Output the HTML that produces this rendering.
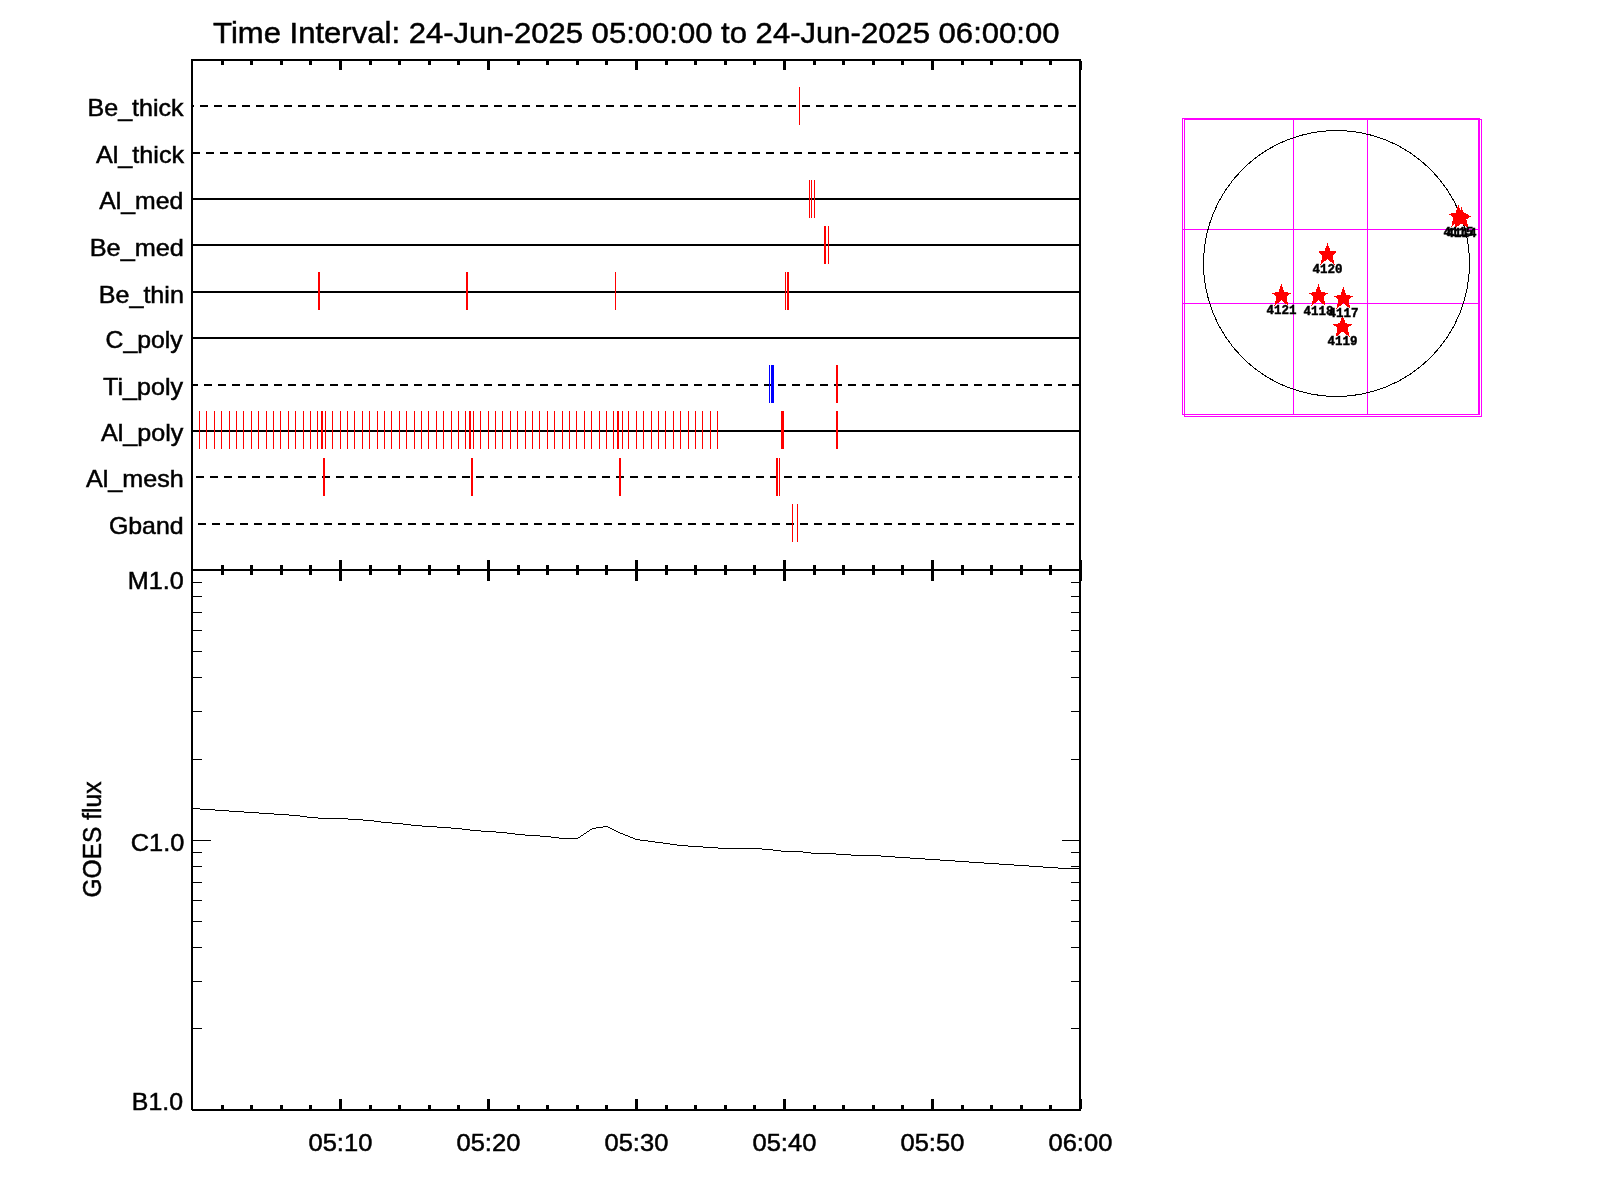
<!DOCTYPE html>
<html><head><meta charset="utf-8"><style>
html,body{margin:0;padding:0;background:#fff;width:1600px;height:1200px;overflow:hidden}
svg{position:absolute;left:0;top:0;will-change:transform}
text{font-family:"Liberation Sans",sans-serif;fill:#000}
</style></head><body>
<svg width="1600" height="1200" viewBox="0 0 1600 1200">
<rect x="0" y="0" width="1600" height="1200" fill="#fff"/>
<g shape-rendering="crispEdges">
<rect x="191" y="59" width="890" height="2" fill="#000"/>
<rect x="191" y="569" width="890" height="2" fill="#000"/>
<rect x="192" y="1109" width="889" height="2" fill="#000"/>
<rect x="191" y="59" width="2" height="1051" fill="#000"/>
<rect x="1079" y="59" width="2" height="1052" fill="#000"/>
<rect x="221" y="61" width="3" height="4" fill="#000"/>
<rect x="221" y="565" width="3" height="10" fill="#000"/>
<rect x="221" y="1105" width="3" height="4" fill="#000"/>
<rect x="250" y="61" width="3" height="4" fill="#000"/>
<rect x="250" y="565" width="3" height="10" fill="#000"/>
<rect x="250" y="1105" width="3" height="4" fill="#000"/>
<rect x="280" y="61" width="3" height="4" fill="#000"/>
<rect x="280" y="565" width="3" height="10" fill="#000"/>
<rect x="280" y="1105" width="3" height="4" fill="#000"/>
<rect x="309" y="61" width="3" height="4" fill="#000"/>
<rect x="309" y="565" width="3" height="10" fill="#000"/>
<rect x="309" y="1105" width="3" height="4" fill="#000"/>
<rect x="339" y="61" width="3" height="9" fill="#000"/>
<rect x="339" y="560" width="3" height="21" fill="#000"/>
<rect x="339" y="1099" width="3" height="10" fill="#000"/>
<rect x="369" y="61" width="3" height="4" fill="#000"/>
<rect x="369" y="565" width="3" height="10" fill="#000"/>
<rect x="369" y="1105" width="3" height="4" fill="#000"/>
<rect x="398" y="61" width="3" height="4" fill="#000"/>
<rect x="398" y="565" width="3" height="10" fill="#000"/>
<rect x="398" y="1105" width="3" height="4" fill="#000"/>
<rect x="428" y="61" width="3" height="4" fill="#000"/>
<rect x="428" y="565" width="3" height="10" fill="#000"/>
<rect x="428" y="1105" width="3" height="4" fill="#000"/>
<rect x="457" y="61" width="3" height="4" fill="#000"/>
<rect x="457" y="565" width="3" height="10" fill="#000"/>
<rect x="457" y="1105" width="3" height="4" fill="#000"/>
<rect x="487" y="61" width="3" height="9" fill="#000"/>
<rect x="487" y="560" width="3" height="21" fill="#000"/>
<rect x="487" y="1099" width="3" height="10" fill="#000"/>
<rect x="517" y="61" width="3" height="4" fill="#000"/>
<rect x="517" y="565" width="3" height="10" fill="#000"/>
<rect x="517" y="1105" width="3" height="4" fill="#000"/>
<rect x="546" y="61" width="3" height="4" fill="#000"/>
<rect x="546" y="565" width="3" height="10" fill="#000"/>
<rect x="546" y="1105" width="3" height="4" fill="#000"/>
<rect x="576" y="61" width="3" height="4" fill="#000"/>
<rect x="576" y="565" width="3" height="10" fill="#000"/>
<rect x="576" y="1105" width="3" height="4" fill="#000"/>
<rect x="605" y="61" width="3" height="4" fill="#000"/>
<rect x="605" y="565" width="3" height="10" fill="#000"/>
<rect x="605" y="1105" width="3" height="4" fill="#000"/>
<rect x="635" y="61" width="3" height="9" fill="#000"/>
<rect x="635" y="560" width="3" height="21" fill="#000"/>
<rect x="635" y="1099" width="3" height="10" fill="#000"/>
<rect x="665" y="61" width="3" height="4" fill="#000"/>
<rect x="665" y="565" width="3" height="10" fill="#000"/>
<rect x="665" y="1105" width="3" height="4" fill="#000"/>
<rect x="694" y="61" width="3" height="4" fill="#000"/>
<rect x="694" y="565" width="3" height="10" fill="#000"/>
<rect x="694" y="1105" width="3" height="4" fill="#000"/>
<rect x="724" y="61" width="3" height="4" fill="#000"/>
<rect x="724" y="565" width="3" height="10" fill="#000"/>
<rect x="724" y="1105" width="3" height="4" fill="#000"/>
<rect x="753" y="61" width="3" height="4" fill="#000"/>
<rect x="753" y="565" width="3" height="10" fill="#000"/>
<rect x="753" y="1105" width="3" height="4" fill="#000"/>
<rect x="783" y="61" width="3" height="9" fill="#000"/>
<rect x="783" y="560" width="3" height="21" fill="#000"/>
<rect x="783" y="1099" width="3" height="10" fill="#000"/>
<rect x="813" y="61" width="3" height="4" fill="#000"/>
<rect x="813" y="565" width="3" height="10" fill="#000"/>
<rect x="813" y="1105" width="3" height="4" fill="#000"/>
<rect x="842" y="61" width="3" height="4" fill="#000"/>
<rect x="842" y="565" width="3" height="10" fill="#000"/>
<rect x="842" y="1105" width="3" height="4" fill="#000"/>
<rect x="872" y="61" width="3" height="4" fill="#000"/>
<rect x="872" y="565" width="3" height="10" fill="#000"/>
<rect x="872" y="1105" width="3" height="4" fill="#000"/>
<rect x="901" y="61" width="3" height="4" fill="#000"/>
<rect x="901" y="565" width="3" height="10" fill="#000"/>
<rect x="901" y="1105" width="3" height="4" fill="#000"/>
<rect x="931" y="61" width="3" height="9" fill="#000"/>
<rect x="931" y="560" width="3" height="21" fill="#000"/>
<rect x="931" y="1099" width="3" height="10" fill="#000"/>
<rect x="961" y="61" width="3" height="4" fill="#000"/>
<rect x="961" y="565" width="3" height="10" fill="#000"/>
<rect x="961" y="1105" width="3" height="4" fill="#000"/>
<rect x="990" y="61" width="3" height="4" fill="#000"/>
<rect x="990" y="565" width="3" height="10" fill="#000"/>
<rect x="990" y="1105" width="3" height="4" fill="#000"/>
<rect x="1020" y="61" width="3" height="4" fill="#000"/>
<rect x="1020" y="565" width="3" height="10" fill="#000"/>
<rect x="1020" y="1105" width="3" height="4" fill="#000"/>
<rect x="1049" y="61" width="3" height="4" fill="#000"/>
<rect x="1049" y="565" width="3" height="10" fill="#000"/>
<rect x="1049" y="1105" width="3" height="4" fill="#000"/>
<rect x="1079" y="61" width="3" height="9" fill="#000"/>
<rect x="1079" y="560" width="3" height="21" fill="#000"/>
<rect x="1079" y="1099" width="3" height="10" fill="#000"/>
<rect x="193" y="105" width="1" height="2" fill="#000"/>
<rect x="200" y="105" width="8" height="2" fill="#000"/>
<rect x="214" y="105" width="8" height="2" fill="#000"/>
<rect x="228" y="105" width="8" height="2" fill="#000"/>
<rect x="242" y="105" width="8" height="2" fill="#000"/>
<rect x="256" y="105" width="8" height="2" fill="#000"/>
<rect x="270" y="105" width="8" height="2" fill="#000"/>
<rect x="284" y="105" width="8" height="2" fill="#000"/>
<rect x="298" y="105" width="8" height="2" fill="#000"/>
<rect x="312" y="105" width="8" height="2" fill="#000"/>
<rect x="326" y="105" width="8" height="2" fill="#000"/>
<rect x="340" y="105" width="8" height="2" fill="#000"/>
<rect x="354" y="105" width="8" height="2" fill="#000"/>
<rect x="368" y="105" width="8" height="2" fill="#000"/>
<rect x="382" y="105" width="8" height="2" fill="#000"/>
<rect x="396" y="105" width="8" height="2" fill="#000"/>
<rect x="410" y="105" width="8" height="2" fill="#000"/>
<rect x="424" y="105" width="8" height="2" fill="#000"/>
<rect x="438" y="105" width="8" height="2" fill="#000"/>
<rect x="452" y="105" width="8" height="2" fill="#000"/>
<rect x="466" y="105" width="8" height="2" fill="#000"/>
<rect x="480" y="105" width="8" height="2" fill="#000"/>
<rect x="494" y="105" width="8" height="2" fill="#000"/>
<rect x="508" y="105" width="8" height="2" fill="#000"/>
<rect x="522" y="105" width="8" height="2" fill="#000"/>
<rect x="536" y="105" width="8" height="2" fill="#000"/>
<rect x="550" y="105" width="8" height="2" fill="#000"/>
<rect x="564" y="105" width="8" height="2" fill="#000"/>
<rect x="578" y="105" width="8" height="2" fill="#000"/>
<rect x="592" y="105" width="8" height="2" fill="#000"/>
<rect x="606" y="105" width="8" height="2" fill="#000"/>
<rect x="620" y="105" width="8" height="2" fill="#000"/>
<rect x="634" y="105" width="8" height="2" fill="#000"/>
<rect x="648" y="105" width="8" height="2" fill="#000"/>
<rect x="662" y="105" width="8" height="2" fill="#000"/>
<rect x="676" y="105" width="8" height="2" fill="#000"/>
<rect x="690" y="105" width="8" height="2" fill="#000"/>
<rect x="704" y="105" width="8" height="2" fill="#000"/>
<rect x="718" y="105" width="8" height="2" fill="#000"/>
<rect x="732" y="105" width="8" height="2" fill="#000"/>
<rect x="746" y="105" width="8" height="2" fill="#000"/>
<rect x="760" y="105" width="8" height="2" fill="#000"/>
<rect x="774" y="105" width="8" height="2" fill="#000"/>
<rect x="788" y="105" width="8" height="2" fill="#000"/>
<rect x="802" y="105" width="8" height="2" fill="#000"/>
<rect x="816" y="105" width="8" height="2" fill="#000"/>
<rect x="830" y="105" width="8" height="2" fill="#000"/>
<rect x="844" y="105" width="8" height="2" fill="#000"/>
<rect x="858" y="105" width="8" height="2" fill="#000"/>
<rect x="872" y="105" width="8" height="2" fill="#000"/>
<rect x="886" y="105" width="8" height="2" fill="#000"/>
<rect x="900" y="105" width="8" height="2" fill="#000"/>
<rect x="914" y="105" width="8" height="2" fill="#000"/>
<rect x="928" y="105" width="8" height="2" fill="#000"/>
<rect x="942" y="105" width="8" height="2" fill="#000"/>
<rect x="956" y="105" width="8" height="2" fill="#000"/>
<rect x="970" y="105" width="8" height="2" fill="#000"/>
<rect x="984" y="105" width="8" height="2" fill="#000"/>
<rect x="998" y="105" width="8" height="2" fill="#000"/>
<rect x="1012" y="105" width="8" height="2" fill="#000"/>
<rect x="1026" y="105" width="8" height="2" fill="#000"/>
<rect x="1040" y="105" width="8" height="2" fill="#000"/>
<rect x="1054" y="105" width="8" height="2" fill="#000"/>
<rect x="1068" y="105" width="8" height="2" fill="#000"/>
<text x="87.50" y="116" font-size="24" textLength="96.11" lengthAdjust="spacingAndGlyphs" stroke="#000" stroke-width="0.5">Be_thick</text>
<rect x="193" y="152" width="7" height="2" fill="#000"/>
<rect x="206" y="152" width="8" height="2" fill="#000"/>
<rect x="220" y="152" width="8" height="2" fill="#000"/>
<rect x="234" y="152" width="8" height="2" fill="#000"/>
<rect x="248" y="152" width="8" height="2" fill="#000"/>
<rect x="262" y="152" width="8" height="2" fill="#000"/>
<rect x="276" y="152" width="8" height="2" fill="#000"/>
<rect x="290" y="152" width="8" height="2" fill="#000"/>
<rect x="304" y="152" width="8" height="2" fill="#000"/>
<rect x="318" y="152" width="8" height="2" fill="#000"/>
<rect x="332" y="152" width="8" height="2" fill="#000"/>
<rect x="346" y="152" width="8" height="2" fill="#000"/>
<rect x="360" y="152" width="8" height="2" fill="#000"/>
<rect x="374" y="152" width="8" height="2" fill="#000"/>
<rect x="388" y="152" width="8" height="2" fill="#000"/>
<rect x="402" y="152" width="8" height="2" fill="#000"/>
<rect x="416" y="152" width="8" height="2" fill="#000"/>
<rect x="430" y="152" width="8" height="2" fill="#000"/>
<rect x="444" y="152" width="8" height="2" fill="#000"/>
<rect x="458" y="152" width="8" height="2" fill="#000"/>
<rect x="472" y="152" width="8" height="2" fill="#000"/>
<rect x="486" y="152" width="8" height="2" fill="#000"/>
<rect x="500" y="152" width="8" height="2" fill="#000"/>
<rect x="514" y="152" width="8" height="2" fill="#000"/>
<rect x="528" y="152" width="8" height="2" fill="#000"/>
<rect x="542" y="152" width="8" height="2" fill="#000"/>
<rect x="556" y="152" width="8" height="2" fill="#000"/>
<rect x="570" y="152" width="8" height="2" fill="#000"/>
<rect x="584" y="152" width="8" height="2" fill="#000"/>
<rect x="598" y="152" width="8" height="2" fill="#000"/>
<rect x="612" y="152" width="8" height="2" fill="#000"/>
<rect x="626" y="152" width="8" height="2" fill="#000"/>
<rect x="640" y="152" width="8" height="2" fill="#000"/>
<rect x="654" y="152" width="8" height="2" fill="#000"/>
<rect x="668" y="152" width="8" height="2" fill="#000"/>
<rect x="682" y="152" width="8" height="2" fill="#000"/>
<rect x="696" y="152" width="8" height="2" fill="#000"/>
<rect x="710" y="152" width="8" height="2" fill="#000"/>
<rect x="724" y="152" width="8" height="2" fill="#000"/>
<rect x="738" y="152" width="8" height="2" fill="#000"/>
<rect x="752" y="152" width="8" height="2" fill="#000"/>
<rect x="766" y="152" width="8" height="2" fill="#000"/>
<rect x="780" y="152" width="8" height="2" fill="#000"/>
<rect x="794" y="152" width="8" height="2" fill="#000"/>
<rect x="808" y="152" width="8" height="2" fill="#000"/>
<rect x="822" y="152" width="8" height="2" fill="#000"/>
<rect x="836" y="152" width="8" height="2" fill="#000"/>
<rect x="850" y="152" width="8" height="2" fill="#000"/>
<rect x="864" y="152" width="8" height="2" fill="#000"/>
<rect x="878" y="152" width="8" height="2" fill="#000"/>
<rect x="892" y="152" width="8" height="2" fill="#000"/>
<rect x="906" y="152" width="8" height="2" fill="#000"/>
<rect x="920" y="152" width="8" height="2" fill="#000"/>
<rect x="934" y="152" width="8" height="2" fill="#000"/>
<rect x="948" y="152" width="8" height="2" fill="#000"/>
<rect x="962" y="152" width="8" height="2" fill="#000"/>
<rect x="976" y="152" width="8" height="2" fill="#000"/>
<rect x="990" y="152" width="8" height="2" fill="#000"/>
<rect x="1004" y="152" width="8" height="2" fill="#000"/>
<rect x="1018" y="152" width="8" height="2" fill="#000"/>
<rect x="1032" y="152" width="8" height="2" fill="#000"/>
<rect x="1046" y="152" width="8" height="2" fill="#000"/>
<rect x="1060" y="152" width="8" height="2" fill="#000"/>
<rect x="1074" y="152" width="5" height="2" fill="#000"/>
<text x="96.00" y="163" font-size="24" textLength="88.05" lengthAdjust="spacingAndGlyphs" stroke="#000" stroke-width="0.5">Al_thick</text>
<rect x="193" y="198" width="886" height="2" fill="#000"/>
<text x="99.25" y="209" font-size="24" textLength="84.08" lengthAdjust="spacingAndGlyphs" stroke="#000" stroke-width="0.5">Al_med</text>
<rect x="193" y="244" width="886" height="2" fill="#000"/>
<text x="89.70" y="256" font-size="24" textLength="94.23" lengthAdjust="spacingAndGlyphs" stroke="#000" stroke-width="0.5">Be_med</text>
<rect x="193" y="291" width="886" height="2" fill="#000"/>
<text x="98.80" y="303" font-size="24" textLength="85.04" lengthAdjust="spacingAndGlyphs" stroke="#000" stroke-width="0.5">Be_thin</text>
<rect x="193" y="337" width="886" height="2" fill="#000"/>
<text x="105.60" y="348" font-size="24" textLength="77.15" lengthAdjust="spacingAndGlyphs" stroke="#000" stroke-width="0.5">C_poly</text>
<rect x="193" y="384" width="5" height="2" fill="#000"/>
<rect x="204" y="384" width="8" height="2" fill="#000"/>
<rect x="218" y="384" width="8" height="2" fill="#000"/>
<rect x="232" y="384" width="8" height="2" fill="#000"/>
<rect x="246" y="384" width="8" height="2" fill="#000"/>
<rect x="260" y="384" width="8" height="2" fill="#000"/>
<rect x="274" y="384" width="8" height="2" fill="#000"/>
<rect x="288" y="384" width="8" height="2" fill="#000"/>
<rect x="302" y="384" width="8" height="2" fill="#000"/>
<rect x="316" y="384" width="8" height="2" fill="#000"/>
<rect x="330" y="384" width="8" height="2" fill="#000"/>
<rect x="344" y="384" width="8" height="2" fill="#000"/>
<rect x="358" y="384" width="8" height="2" fill="#000"/>
<rect x="372" y="384" width="8" height="2" fill="#000"/>
<rect x="386" y="384" width="8" height="2" fill="#000"/>
<rect x="400" y="384" width="8" height="2" fill="#000"/>
<rect x="414" y="384" width="8" height="2" fill="#000"/>
<rect x="428" y="384" width="8" height="2" fill="#000"/>
<rect x="442" y="384" width="8" height="2" fill="#000"/>
<rect x="456" y="384" width="8" height="2" fill="#000"/>
<rect x="470" y="384" width="8" height="2" fill="#000"/>
<rect x="484" y="384" width="8" height="2" fill="#000"/>
<rect x="498" y="384" width="8" height="2" fill="#000"/>
<rect x="512" y="384" width="8" height="2" fill="#000"/>
<rect x="526" y="384" width="8" height="2" fill="#000"/>
<rect x="540" y="384" width="8" height="2" fill="#000"/>
<rect x="554" y="384" width="8" height="2" fill="#000"/>
<rect x="568" y="384" width="8" height="2" fill="#000"/>
<rect x="582" y="384" width="8" height="2" fill="#000"/>
<rect x="596" y="384" width="8" height="2" fill="#000"/>
<rect x="610" y="384" width="8" height="2" fill="#000"/>
<rect x="624" y="384" width="8" height="2" fill="#000"/>
<rect x="638" y="384" width="8" height="2" fill="#000"/>
<rect x="652" y="384" width="8" height="2" fill="#000"/>
<rect x="666" y="384" width="8" height="2" fill="#000"/>
<rect x="680" y="384" width="8" height="2" fill="#000"/>
<rect x="694" y="384" width="8" height="2" fill="#000"/>
<rect x="708" y="384" width="8" height="2" fill="#000"/>
<rect x="722" y="384" width="8" height="2" fill="#000"/>
<rect x="736" y="384" width="8" height="2" fill="#000"/>
<rect x="750" y="384" width="8" height="2" fill="#000"/>
<rect x="764" y="384" width="8" height="2" fill="#000"/>
<rect x="778" y="384" width="8" height="2" fill="#000"/>
<rect x="792" y="384" width="8" height="2" fill="#000"/>
<rect x="806" y="384" width="8" height="2" fill="#000"/>
<rect x="820" y="384" width="8" height="2" fill="#000"/>
<rect x="834" y="384" width="8" height="2" fill="#000"/>
<rect x="848" y="384" width="8" height="2" fill="#000"/>
<rect x="862" y="384" width="8" height="2" fill="#000"/>
<rect x="876" y="384" width="8" height="2" fill="#000"/>
<rect x="890" y="384" width="8" height="2" fill="#000"/>
<rect x="904" y="384" width="8" height="2" fill="#000"/>
<rect x="918" y="384" width="8" height="2" fill="#000"/>
<rect x="932" y="384" width="8" height="2" fill="#000"/>
<rect x="946" y="384" width="8" height="2" fill="#000"/>
<rect x="960" y="384" width="8" height="2" fill="#000"/>
<rect x="974" y="384" width="8" height="2" fill="#000"/>
<rect x="988" y="384" width="8" height="2" fill="#000"/>
<rect x="1002" y="384" width="8" height="2" fill="#000"/>
<rect x="1016" y="384" width="8" height="2" fill="#000"/>
<rect x="1030" y="384" width="8" height="2" fill="#000"/>
<rect x="1044" y="384" width="8" height="2" fill="#000"/>
<rect x="1058" y="384" width="8" height="2" fill="#000"/>
<rect x="1072" y="384" width="7" height="2" fill="#000"/>
<text x="103.10" y="395" font-size="24" textLength="79.90" lengthAdjust="spacingAndGlyphs" stroke="#000" stroke-width="0.5">Ti_poly</text>
<rect x="193" y="430" width="886" height="2" fill="#000"/>
<text x="101.00" y="441" font-size="24" textLength="82.35" lengthAdjust="spacingAndGlyphs" stroke="#000" stroke-width="0.5">Al_poly</text>
<rect x="196" y="476" width="8" height="2" fill="#000"/>
<rect x="210" y="476" width="8" height="2" fill="#000"/>
<rect x="224" y="476" width="8" height="2" fill="#000"/>
<rect x="238" y="476" width="8" height="2" fill="#000"/>
<rect x="252" y="476" width="8" height="2" fill="#000"/>
<rect x="266" y="476" width="8" height="2" fill="#000"/>
<rect x="280" y="476" width="8" height="2" fill="#000"/>
<rect x="294" y="476" width="8" height="2" fill="#000"/>
<rect x="308" y="476" width="8" height="2" fill="#000"/>
<rect x="322" y="476" width="8" height="2" fill="#000"/>
<rect x="336" y="476" width="8" height="2" fill="#000"/>
<rect x="350" y="476" width="8" height="2" fill="#000"/>
<rect x="364" y="476" width="8" height="2" fill="#000"/>
<rect x="378" y="476" width="8" height="2" fill="#000"/>
<rect x="392" y="476" width="8" height="2" fill="#000"/>
<rect x="406" y="476" width="8" height="2" fill="#000"/>
<rect x="420" y="476" width="8" height="2" fill="#000"/>
<rect x="434" y="476" width="8" height="2" fill="#000"/>
<rect x="448" y="476" width="8" height="2" fill="#000"/>
<rect x="462" y="476" width="8" height="2" fill="#000"/>
<rect x="476" y="476" width="8" height="2" fill="#000"/>
<rect x="490" y="476" width="8" height="2" fill="#000"/>
<rect x="504" y="476" width="8" height="2" fill="#000"/>
<rect x="518" y="476" width="8" height="2" fill="#000"/>
<rect x="532" y="476" width="8" height="2" fill="#000"/>
<rect x="546" y="476" width="8" height="2" fill="#000"/>
<rect x="560" y="476" width="8" height="2" fill="#000"/>
<rect x="574" y="476" width="8" height="2" fill="#000"/>
<rect x="588" y="476" width="8" height="2" fill="#000"/>
<rect x="602" y="476" width="8" height="2" fill="#000"/>
<rect x="616" y="476" width="8" height="2" fill="#000"/>
<rect x="630" y="476" width="8" height="2" fill="#000"/>
<rect x="644" y="476" width="8" height="2" fill="#000"/>
<rect x="658" y="476" width="8" height="2" fill="#000"/>
<rect x="672" y="476" width="8" height="2" fill="#000"/>
<rect x="686" y="476" width="8" height="2" fill="#000"/>
<rect x="700" y="476" width="8" height="2" fill="#000"/>
<rect x="714" y="476" width="8" height="2" fill="#000"/>
<rect x="728" y="476" width="8" height="2" fill="#000"/>
<rect x="742" y="476" width="8" height="2" fill="#000"/>
<rect x="756" y="476" width="8" height="2" fill="#000"/>
<rect x="770" y="476" width="8" height="2" fill="#000"/>
<rect x="784" y="476" width="8" height="2" fill="#000"/>
<rect x="798" y="476" width="8" height="2" fill="#000"/>
<rect x="812" y="476" width="8" height="2" fill="#000"/>
<rect x="826" y="476" width="8" height="2" fill="#000"/>
<rect x="840" y="476" width="8" height="2" fill="#000"/>
<rect x="854" y="476" width="8" height="2" fill="#000"/>
<rect x="868" y="476" width="8" height="2" fill="#000"/>
<rect x="882" y="476" width="8" height="2" fill="#000"/>
<rect x="896" y="476" width="8" height="2" fill="#000"/>
<rect x="910" y="476" width="8" height="2" fill="#000"/>
<rect x="924" y="476" width="8" height="2" fill="#000"/>
<rect x="938" y="476" width="8" height="2" fill="#000"/>
<rect x="952" y="476" width="8" height="2" fill="#000"/>
<rect x="966" y="476" width="8" height="2" fill="#000"/>
<rect x="980" y="476" width="8" height="2" fill="#000"/>
<rect x="994" y="476" width="8" height="2" fill="#000"/>
<rect x="1008" y="476" width="8" height="2" fill="#000"/>
<rect x="1022" y="476" width="8" height="2" fill="#000"/>
<rect x="1036" y="476" width="8" height="2" fill="#000"/>
<rect x="1050" y="476" width="8" height="2" fill="#000"/>
<rect x="1064" y="476" width="8" height="2" fill="#000"/>
<rect x="1078" y="476" width="1" height="2" fill="#000"/>
<text x="86.00" y="487" font-size="24" textLength="97.78" lengthAdjust="spacingAndGlyphs" stroke="#000" stroke-width="0.5">Al_mesh</text>
<rect x="198" y="523" width="8" height="2" fill="#000"/>
<rect x="212" y="523" width="8" height="2" fill="#000"/>
<rect x="226" y="523" width="8" height="2" fill="#000"/>
<rect x="240" y="523" width="8" height="2" fill="#000"/>
<rect x="254" y="523" width="8" height="2" fill="#000"/>
<rect x="268" y="523" width="8" height="2" fill="#000"/>
<rect x="282" y="523" width="8" height="2" fill="#000"/>
<rect x="296" y="523" width="8" height="2" fill="#000"/>
<rect x="310" y="523" width="8" height="2" fill="#000"/>
<rect x="324" y="523" width="8" height="2" fill="#000"/>
<rect x="338" y="523" width="8" height="2" fill="#000"/>
<rect x="352" y="523" width="8" height="2" fill="#000"/>
<rect x="366" y="523" width="8" height="2" fill="#000"/>
<rect x="380" y="523" width="8" height="2" fill="#000"/>
<rect x="394" y="523" width="8" height="2" fill="#000"/>
<rect x="408" y="523" width="8" height="2" fill="#000"/>
<rect x="422" y="523" width="8" height="2" fill="#000"/>
<rect x="436" y="523" width="8" height="2" fill="#000"/>
<rect x="450" y="523" width="8" height="2" fill="#000"/>
<rect x="464" y="523" width="8" height="2" fill="#000"/>
<rect x="478" y="523" width="8" height="2" fill="#000"/>
<rect x="492" y="523" width="8" height="2" fill="#000"/>
<rect x="506" y="523" width="8" height="2" fill="#000"/>
<rect x="520" y="523" width="8" height="2" fill="#000"/>
<rect x="534" y="523" width="8" height="2" fill="#000"/>
<rect x="548" y="523" width="8" height="2" fill="#000"/>
<rect x="562" y="523" width="8" height="2" fill="#000"/>
<rect x="576" y="523" width="8" height="2" fill="#000"/>
<rect x="590" y="523" width="8" height="2" fill="#000"/>
<rect x="604" y="523" width="8" height="2" fill="#000"/>
<rect x="618" y="523" width="8" height="2" fill="#000"/>
<rect x="632" y="523" width="8" height="2" fill="#000"/>
<rect x="646" y="523" width="8" height="2" fill="#000"/>
<rect x="660" y="523" width="8" height="2" fill="#000"/>
<rect x="674" y="523" width="8" height="2" fill="#000"/>
<rect x="688" y="523" width="8" height="2" fill="#000"/>
<rect x="702" y="523" width="8" height="2" fill="#000"/>
<rect x="716" y="523" width="8" height="2" fill="#000"/>
<rect x="730" y="523" width="8" height="2" fill="#000"/>
<rect x="744" y="523" width="8" height="2" fill="#000"/>
<rect x="758" y="523" width="8" height="2" fill="#000"/>
<rect x="772" y="523" width="8" height="2" fill="#000"/>
<rect x="786" y="523" width="8" height="2" fill="#000"/>
<rect x="800" y="523" width="8" height="2" fill="#000"/>
<rect x="814" y="523" width="8" height="2" fill="#000"/>
<rect x="828" y="523" width="8" height="2" fill="#000"/>
<rect x="842" y="523" width="8" height="2" fill="#000"/>
<rect x="856" y="523" width="8" height="2" fill="#000"/>
<rect x="870" y="523" width="8" height="2" fill="#000"/>
<rect x="884" y="523" width="8" height="2" fill="#000"/>
<rect x="898" y="523" width="8" height="2" fill="#000"/>
<rect x="912" y="523" width="8" height="2" fill="#000"/>
<rect x="926" y="523" width="8" height="2" fill="#000"/>
<rect x="940" y="523" width="8" height="2" fill="#000"/>
<rect x="954" y="523" width="8" height="2" fill="#000"/>
<rect x="968" y="523" width="8" height="2" fill="#000"/>
<rect x="982" y="523" width="8" height="2" fill="#000"/>
<rect x="996" y="523" width="8" height="2" fill="#000"/>
<rect x="1010" y="523" width="8" height="2" fill="#000"/>
<rect x="1024" y="523" width="8" height="2" fill="#000"/>
<rect x="1038" y="523" width="8" height="2" fill="#000"/>
<rect x="1052" y="523" width="8" height="2" fill="#000"/>
<rect x="1066" y="523" width="8" height="2" fill="#000"/>
<text x="108.90" y="534" font-size="24" textLength="74.71" lengthAdjust="spacingAndGlyphs" stroke="#000" stroke-width="0.5">Gband</text>
<rect x="799" y="87" width="1" height="38" fill="#ff0000"/>
<rect x="809" y="180" width="1" height="38" fill="#ff0000"/>
<rect x="811" y="180" width="1" height="38" fill="#ff0000"/>
<rect x="814" y="180" width="1" height="38" fill="#ff0000"/>
<rect x="824" y="226" width="2" height="38" fill="#ff0000"/>
<rect x="828" y="226" width="1" height="38" fill="#ff0000"/>
<rect x="318" y="272" width="2" height="38" fill="#ff0000"/>
<rect x="466" y="272" width="2" height="38" fill="#ff0000"/>
<rect x="615" y="272" width="1" height="38" fill="#ff0000"/>
<rect x="785" y="272" width="1" height="38" fill="#ff0000"/>
<rect x="787" y="272" width="2" height="38" fill="#ff0000"/>
<rect x="323" y="458" width="2" height="38" fill="#ff0000"/>
<rect x="471" y="458" width="2" height="38" fill="#ff0000"/>
<rect x="619" y="458" width="2" height="38" fill="#ff0000"/>
<rect x="776" y="458" width="2" height="38" fill="#ff0000"/>
<rect x="779" y="458" width="1" height="38" fill="#ff0000"/>
<rect x="792" y="504" width="1" height="38" fill="#ff0000"/>
<rect x="797" y="504" width="1" height="38" fill="#ff0000"/>
<rect x="769" y="365" width="1" height="38" fill="#0000ff"/>
<rect x="771" y="365" width="3" height="38" fill="#0000ff"/>
<rect x="836" y="365" width="2" height="38" fill="#ff0000"/>
<rect x="199" y="411" width="1" height="38" fill="#ff0000"/>
<rect x="206" y="411" width="1" height="38" fill="#ff0000"/>
<rect x="214" y="411" width="1" height="38" fill="#ff0000"/>
<rect x="221" y="411" width="1" height="38" fill="#ff0000"/>
<rect x="229" y="411" width="1" height="38" fill="#ff0000"/>
<rect x="236" y="411" width="1" height="38" fill="#ff0000"/>
<rect x="243" y="411" width="1" height="38" fill="#ff0000"/>
<rect x="251" y="411" width="1" height="38" fill="#ff0000"/>
<rect x="258" y="411" width="1" height="38" fill="#ff0000"/>
<rect x="266" y="411" width="1" height="38" fill="#ff0000"/>
<rect x="273" y="411" width="1" height="38" fill="#ff0000"/>
<rect x="280" y="411" width="1" height="38" fill="#ff0000"/>
<rect x="288" y="411" width="1" height="38" fill="#ff0000"/>
<rect x="295" y="411" width="1" height="38" fill="#ff0000"/>
<rect x="303" y="411" width="1" height="38" fill="#ff0000"/>
<rect x="310" y="411" width="1" height="38" fill="#ff0000"/>
<rect x="317" y="411" width="1" height="38" fill="#ff0000"/>
<rect x="325" y="411" width="1" height="38" fill="#ff0000"/>
<rect x="332" y="411" width="1" height="38" fill="#ff0000"/>
<rect x="340" y="411" width="1" height="38" fill="#ff0000"/>
<rect x="347" y="411" width="1" height="38" fill="#ff0000"/>
<rect x="354" y="411" width="1" height="38" fill="#ff0000"/>
<rect x="362" y="411" width="1" height="38" fill="#ff0000"/>
<rect x="369" y="411" width="1" height="38" fill="#ff0000"/>
<rect x="377" y="411" width="1" height="38" fill="#ff0000"/>
<rect x="384" y="411" width="1" height="38" fill="#ff0000"/>
<rect x="391" y="411" width="1" height="38" fill="#ff0000"/>
<rect x="399" y="411" width="1" height="38" fill="#ff0000"/>
<rect x="406" y="411" width="1" height="38" fill="#ff0000"/>
<rect x="414" y="411" width="1" height="38" fill="#ff0000"/>
<rect x="421" y="411" width="1" height="38" fill="#ff0000"/>
<rect x="428" y="411" width="1" height="38" fill="#ff0000"/>
<rect x="436" y="411" width="1" height="38" fill="#ff0000"/>
<rect x="443" y="411" width="1" height="38" fill="#ff0000"/>
<rect x="451" y="411" width="1" height="38" fill="#ff0000"/>
<rect x="458" y="411" width="1" height="38" fill="#ff0000"/>
<rect x="465" y="411" width="1" height="38" fill="#ff0000"/>
<rect x="473" y="411" width="1" height="38" fill="#ff0000"/>
<rect x="480" y="411" width="1" height="38" fill="#ff0000"/>
<rect x="488" y="411" width="1" height="38" fill="#ff0000"/>
<rect x="495" y="411" width="1" height="38" fill="#ff0000"/>
<rect x="502" y="411" width="1" height="38" fill="#ff0000"/>
<rect x="510" y="411" width="1" height="38" fill="#ff0000"/>
<rect x="517" y="411" width="1" height="38" fill="#ff0000"/>
<rect x="525" y="411" width="1" height="38" fill="#ff0000"/>
<rect x="532" y="411" width="1" height="38" fill="#ff0000"/>
<rect x="539" y="411" width="1" height="38" fill="#ff0000"/>
<rect x="547" y="411" width="1" height="38" fill="#ff0000"/>
<rect x="554" y="411" width="1" height="38" fill="#ff0000"/>
<rect x="562" y="411" width="1" height="38" fill="#ff0000"/>
<rect x="569" y="411" width="1" height="38" fill="#ff0000"/>
<rect x="576" y="411" width="1" height="38" fill="#ff0000"/>
<rect x="584" y="411" width="1" height="38" fill="#ff0000"/>
<rect x="591" y="411" width="1" height="38" fill="#ff0000"/>
<rect x="599" y="411" width="1" height="38" fill="#ff0000"/>
<rect x="606" y="411" width="1" height="38" fill="#ff0000"/>
<rect x="613" y="411" width="1" height="38" fill="#ff0000"/>
<rect x="622" y="411" width="1" height="38" fill="#ff0000"/>
<rect x="628" y="411" width="1" height="38" fill="#ff0000"/>
<rect x="636" y="411" width="1" height="38" fill="#ff0000"/>
<rect x="643" y="411" width="1" height="38" fill="#ff0000"/>
<rect x="651" y="411" width="1" height="38" fill="#ff0000"/>
<rect x="658" y="411" width="1" height="38" fill="#ff0000"/>
<rect x="665" y="411" width="1" height="38" fill="#ff0000"/>
<rect x="673" y="411" width="1" height="38" fill="#ff0000"/>
<rect x="680" y="411" width="1" height="38" fill="#ff0000"/>
<rect x="688" y="411" width="1" height="38" fill="#ff0000"/>
<rect x="695" y="411" width="1" height="38" fill="#ff0000"/>
<rect x="702" y="411" width="1" height="38" fill="#ff0000"/>
<rect x="710" y="411" width="1" height="38" fill="#ff0000"/>
<rect x="717" y="411" width="1" height="38" fill="#ff0000"/>
<rect x="321" y="411" width="2" height="38" fill="#ff0000"/>
<rect x="469" y="411" width="2" height="38" fill="#ff0000"/>
<rect x="617" y="411" width="2" height="38" fill="#ff0000"/>
<rect x="781" y="411" width="3" height="38" fill="#ff0000"/>
<rect x="836" y="411" width="2" height="38" fill="#ff0000"/>
<rect x="193" y="840" width="18" height="1" fill="#000"/>
<rect x="1062" y="840" width="17" height="1" fill="#000"/>
<rect x="193" y="759" width="9" height="1" fill="#000"/>
<rect x="1071" y="759" width="8" height="1" fill="#000"/>
<rect x="193" y="711" width="9" height="1" fill="#000"/>
<rect x="1071" y="711" width="8" height="1" fill="#000"/>
<rect x="193" y="677" width="9" height="1" fill="#000"/>
<rect x="1071" y="677" width="8" height="1" fill="#000"/>
<rect x="193" y="651" width="9" height="1" fill="#000"/>
<rect x="1071" y="651" width="8" height="1" fill="#000"/>
<rect x="193" y="630" width="9" height="1" fill="#000"/>
<rect x="1071" y="630" width="8" height="1" fill="#000"/>
<rect x="193" y="612" width="9" height="1" fill="#000"/>
<rect x="1071" y="612" width="8" height="1" fill="#000"/>
<rect x="193" y="596" width="9" height="1" fill="#000"/>
<rect x="1071" y="596" width="8" height="1" fill="#000"/>
<rect x="193" y="582" width="9" height="1" fill="#000"/>
<rect x="1071" y="582" width="8" height="1" fill="#000"/>
<rect x="193" y="1028" width="9" height="1" fill="#000"/>
<rect x="1071" y="1028" width="8" height="1" fill="#000"/>
<rect x="193" y="981" width="9" height="1" fill="#000"/>
<rect x="1071" y="981" width="8" height="1" fill="#000"/>
<rect x="193" y="947" width="9" height="1" fill="#000"/>
<rect x="1071" y="947" width="8" height="1" fill="#000"/>
<rect x="193" y="921" width="9" height="1" fill="#000"/>
<rect x="1071" y="921" width="8" height="1" fill="#000"/>
<rect x="193" y="900" width="9" height="1" fill="#000"/>
<rect x="1071" y="900" width="8" height="1" fill="#000"/>
<rect x="193" y="882" width="9" height="1" fill="#000"/>
<rect x="1071" y="882" width="8" height="1" fill="#000"/>
<rect x="193" y="866" width="9" height="1" fill="#000"/>
<rect x="1071" y="866" width="8" height="1" fill="#000"/>
<rect x="193" y="852" width="9" height="1" fill="#000"/>
<rect x="1071" y="852" width="8" height="1" fill="#000"/>
<text x="127.75" y="589" font-size="24" textLength="55.89" lengthAdjust="spacingAndGlyphs" stroke="#000" stroke-width="0.5">M1.0</text>
<text x="130.80" y="851" font-size="24" textLength="53.58" lengthAdjust="spacingAndGlyphs" stroke="#000" stroke-width="0.5">C1.0</text>
<text x="131.80" y="1110" font-size="24" textLength="51.18" lengthAdjust="spacingAndGlyphs" stroke="#000" stroke-width="0.5">B1.0</text>
<text x="308.50" y="1151" font-size="24" textLength="63.84" lengthAdjust="spacingAndGlyphs" stroke="#000" stroke-width="0.5">05:10</text>
<text x="456.50" y="1151" font-size="24" textLength="63.84" lengthAdjust="spacingAndGlyphs" stroke="#000" stroke-width="0.5">05:20</text>
<text x="604.50" y="1151" font-size="24" textLength="63.84" lengthAdjust="spacingAndGlyphs" stroke="#000" stroke-width="0.5">05:30</text>
<text x="752.50" y="1151" font-size="24" textLength="63.84" lengthAdjust="spacingAndGlyphs" stroke="#000" stroke-width="0.5">05:40</text>
<text x="900.50" y="1151" font-size="24" textLength="63.84" lengthAdjust="spacingAndGlyphs" stroke="#000" stroke-width="0.5">05:50</text>
<text x="1048.50" y="1151" font-size="24" textLength="63.84" lengthAdjust="spacingAndGlyphs" stroke="#000" stroke-width="0.5">06:00</text>
<text x="0" y="0" font-size="25" text-anchor="middle" textLength="116" lengthAdjust="spacingAndGlyphs" stroke="#000" stroke-width="0.5" transform="translate(101,839.5) rotate(-90)">GOES flux</text>
<rect x="193" y="808" width="7" height="1" fill="#000"/>
<rect x="200" y="809" width="15" height="1" fill="#000"/>
<rect x="215" y="810" width="14" height="1" fill="#000"/>
<rect x="229" y="811" width="15" height="1" fill="#000"/>
<rect x="244" y="812" width="15" height="1" fill="#000"/>
<rect x="259" y="813" width="15" height="1" fill="#000"/>
<rect x="274" y="814" width="15" height="1" fill="#000"/>
<rect x="289" y="815" width="11" height="1" fill="#000"/>
<rect x="300" y="816" width="7" height="1" fill="#000"/>
<rect x="307" y="817" width="11" height="1" fill="#000"/>
<rect x="318" y="818" width="30" height="1" fill="#000"/>
<rect x="348" y="819" width="15" height="1" fill="#000"/>
<rect x="363" y="820" width="11" height="1" fill="#000"/>
<rect x="374" y="821" width="7" height="1" fill="#000"/>
<rect x="381" y="822" width="11" height="1" fill="#000"/>
<rect x="392" y="823" width="11" height="1" fill="#000"/>
<rect x="403" y="824" width="8" height="1" fill="#000"/>
<rect x="411" y="825" width="11" height="1" fill="#000"/>
<rect x="422" y="826" width="15" height="1" fill="#000"/>
<rect x="437" y="827" width="14" height="1" fill="#000"/>
<rect x="451" y="828" width="11" height="1" fill="#000"/>
<rect x="462" y="829" width="8" height="1" fill="#000"/>
<rect x="470" y="830" width="11" height="1" fill="#000"/>
<rect x="481" y="831" width="15" height="1" fill="#000"/>
<rect x="496" y="832" width="11" height="1" fill="#000"/>
<rect x="507" y="833" width="8" height="1" fill="#000"/>
<rect x="515" y="834" width="10" height="1" fill="#000"/>
<rect x="525" y="835" width="15" height="1" fill="#000"/>
<rect x="540" y="836" width="11" height="1" fill="#000"/>
<rect x="551" y="837" width="8" height="1" fill="#000"/>
<rect x="559" y="838" width="19" height="1" fill="#000"/>
<rect x="578" y="837" width="2" height="1" fill="#000"/>
<rect x="580" y="836" width="1" height="1" fill="#000"/>
<rect x="581" y="835" width="2" height="1" fill="#000"/>
<rect x="583" y="834" width="1" height="1" fill="#000"/>
<rect x="584" y="833" width="2" height="1" fill="#000"/>
<rect x="586" y="832" width="1" height="1" fill="#000"/>
<rect x="587" y="831" width="2" height="1" fill="#000"/>
<rect x="589" y="830" width="1" height="1" fill="#000"/>
<rect x="590" y="829" width="2" height="1" fill="#000"/>
<rect x="592" y="828" width="4" height="1" fill="#000"/>
<rect x="596" y="827" width="7" height="1" fill="#000"/>
<rect x="603" y="826" width="5" height="1" fill="#000"/>
<rect x="608" y="827" width="2" height="1" fill="#000"/>
<rect x="610" y="828" width="2" height="1" fill="#000"/>
<rect x="612" y="829" width="2" height="1" fill="#000"/>
<rect x="614" y="830" width="2" height="1" fill="#000"/>
<rect x="616" y="831" width="2" height="1" fill="#000"/>
<rect x="618" y="832" width="2" height="1" fill="#000"/>
<rect x="620" y="833" width="3" height="1" fill="#000"/>
<rect x="623" y="834" width="2" height="1" fill="#000"/>
<rect x="625" y="835" width="3" height="1" fill="#000"/>
<rect x="628" y="836" width="2" height="1" fill="#000"/>
<rect x="630" y="837" width="3" height="1" fill="#000"/>
<rect x="633" y="838" width="2" height="1" fill="#000"/>
<rect x="635" y="839" width="5" height="1" fill="#000"/>
<rect x="640" y="840" width="8" height="1" fill="#000"/>
<rect x="648" y="841" width="7" height="1" fill="#000"/>
<rect x="655" y="842" width="8" height="1" fill="#000"/>
<rect x="663" y="843" width="7" height="1" fill="#000"/>
<rect x="670" y="844" width="7" height="1" fill="#000"/>
<rect x="677" y="845" width="11" height="1" fill="#000"/>
<rect x="688" y="846" width="15" height="1" fill="#000"/>
<rect x="703" y="847" width="15" height="1" fill="#000"/>
<rect x="718" y="848" width="44" height="1" fill="#000"/>
<rect x="762" y="849" width="11" height="1" fill="#000"/>
<rect x="773" y="850" width="8" height="1" fill="#000"/>
<rect x="781" y="851" width="22" height="1" fill="#000"/>
<rect x="803" y="852" width="8" height="1" fill="#000"/>
<rect x="811" y="853" width="25" height="1" fill="#000"/>
<rect x="836" y="854" width="15" height="1" fill="#000"/>
<rect x="851" y="855" width="30" height="1" fill="#000"/>
<rect x="881" y="856" width="14" height="1" fill="#000"/>
<rect x="895" y="857" width="15" height="1" fill="#000"/>
<rect x="910" y="858" width="15" height="1" fill="#000"/>
<rect x="925" y="859" width="15" height="1" fill="#000"/>
<rect x="940" y="860" width="15" height="1" fill="#000"/>
<rect x="955" y="861" width="14" height="1" fill="#000"/>
<rect x="969" y="862" width="15" height="1" fill="#000"/>
<rect x="984" y="863" width="15" height="1" fill="#000"/>
<rect x="999" y="864" width="15" height="1" fill="#000"/>
<rect x="1014" y="865" width="15" height="1" fill="#000"/>
<rect x="1029" y="866" width="14" height="1" fill="#000"/>
<rect x="1043" y="867" width="15" height="1" fill="#000"/>
<rect x="1058" y="868" width="21" height="1" fill="#000"/>
<text x="213.10" y="43" font-size="30" textLength="846.37" lengthAdjust="spacingAndGlyphs" stroke="#000" stroke-width="0.5">Time Interval: 24-Jun-2025 05:00:00 to 24-Jun-2025 06:00:00</text>
<rect x="1182" y="118" width="298" height="1" fill="#ff00ff"/>
<rect x="1182" y="414" width="298" height="1" fill="#ff00ff"/>
<rect x="1182" y="118" width="1" height="297" fill="#ff00ff"/>
<rect x="1478" y="118" width="2" height="297" fill="#ff00ff"/>
<rect x="1184" y="119" width="298" height="1" fill="#ff00ff"/>
<rect x="1184" y="416" width="298" height="1" fill="#ff00ff"/>
<rect x="1184" y="119" width="1" height="298" fill="#ff00ff"/>
<rect x="1481" y="119" width="1" height="298" fill="#ff00ff"/>
<rect x="1293" y="118" width="1" height="297" fill="#ff00ff"/>
<rect x="1367" y="118" width="1" height="297" fill="#ff00ff"/>
<rect x="1182" y="229" width="298" height="1" fill="#ff00ff"/>
<rect x="1182" y="303" width="298" height="1" fill="#ff00ff"/>
<circle cx="1336.5" cy="263.5" r="133" fill="none" stroke="#000" stroke-width="1"/>
<polygon fill="#ff0000" points="1458.40,205.00 1461.40,213.00 1468.50,213.80 1463.40,217.50 1465.50,226.90 1458.40,221.20 1451.30,226.90 1453.40,217.50 1448.30,213.80 1455.40,213.00"/>
<polygon fill="#ff0000" points="1461.50,207.00 1464.50,215.00 1471.60,215.80 1466.50,219.50 1468.60,228.90 1461.50,223.20 1454.40,228.90 1456.50,219.50 1451.40,215.80 1458.50,215.00"/>
<polygon fill="#ff0000" points="1343.40,287.10 1346.40,295.10 1353.50,295.90 1348.40,299.60 1350.50,309.00 1343.40,303.30 1336.30,309.00 1338.40,299.60 1333.30,295.90 1340.40,295.10"/>
<polygon fill="#ff0000" points="1318.45,284.10 1321.45,292.10 1328.55,292.90 1323.45,296.60 1325.55,306.00 1318.45,300.30 1311.35,306.00 1313.45,296.60 1308.35,292.90 1315.45,292.10"/>
<polygon fill="#ff0000" points="1342.60,315.30 1345.60,323.30 1352.70,324.10 1347.60,327.80 1349.70,337.20 1342.60,331.50 1335.50,337.20 1337.60,327.80 1332.50,324.10 1339.60,323.30"/>
<polygon fill="#ff0000" points="1327.50,242.90 1330.50,250.90 1337.60,251.70 1332.50,255.40 1334.60,264.80 1327.50,259.10 1320.40,264.80 1322.50,255.40 1317.40,251.70 1324.50,250.90"/>
<polygon fill="#ff0000" points="1281.40,284.10 1284.40,292.10 1291.50,292.90 1286.40,296.60 1288.50,306.00 1281.40,300.30 1274.30,306.00 1276.40,296.60 1271.30,292.90 1278.40,292.10"/>
<text x="1458.40" y="236" font-size="12" text-anchor="middle" textLength="30" lengthAdjust="spacingAndGlyphs" stroke="#000" stroke-width="0.45" style="font-family:'Liberation Mono',monospace;font-weight:bold">4115</text>
<text x="1461.50" y="237" font-size="12" text-anchor="middle" textLength="30" lengthAdjust="spacingAndGlyphs" stroke="#000" stroke-width="0.45" style="font-family:'Liberation Mono',monospace;font-weight:bold">4114</text>
<text x="1343.40" y="317" font-size="12" text-anchor="middle" textLength="30" lengthAdjust="spacingAndGlyphs" stroke="#000" stroke-width="0.45" style="font-family:'Liberation Mono',monospace;font-weight:bold">4117</text>
<text x="1318.45" y="315" font-size="12" text-anchor="middle" textLength="30" lengthAdjust="spacingAndGlyphs" stroke="#000" stroke-width="0.45" style="font-family:'Liberation Mono',monospace;font-weight:bold">4118</text>
<text x="1342.60" y="345" font-size="12" text-anchor="middle" textLength="30" lengthAdjust="spacingAndGlyphs" stroke="#000" stroke-width="0.45" style="font-family:'Liberation Mono',monospace;font-weight:bold">4119</text>
<text x="1327.50" y="273" font-size="12" text-anchor="middle" textLength="30" lengthAdjust="spacingAndGlyphs" stroke="#000" stroke-width="0.45" style="font-family:'Liberation Mono',monospace;font-weight:bold">4120</text>
<text x="1281.40" y="314" font-size="12" text-anchor="middle" textLength="30" lengthAdjust="spacingAndGlyphs" stroke="#000" stroke-width="0.45" style="font-family:'Liberation Mono',monospace;font-weight:bold">4121</text>
</g>
</svg></body></html>
